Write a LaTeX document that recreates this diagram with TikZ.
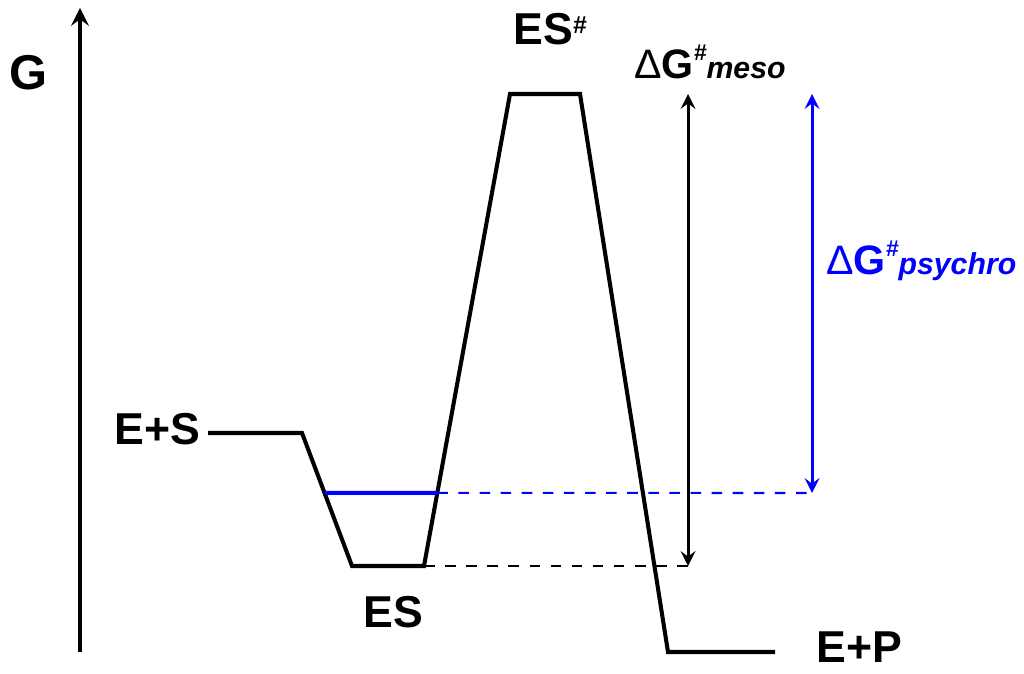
\documentclass[tikz,border=0pt]{standalone}
\usepackage{fontspec}
\setmainfont{Liberation Sans}
\usetikzlibrary{arrows, calc, positioning}
\tikzset{>=stealth}
\newcommand{\dgsharp}[1]{Δ\textbf{G}\raisebox{0.85ex}{\bfseries\itshape\fontsize{6.5}{7}\selectfont\#}{\bfseries\itshape\fontsize{8.6}{10}\selectfont #1}}

\begin{document}
\begin{tikzpicture}[x=0.01cm, y=-0.01cm, >=stealth, thick]
    \tikzset{profile/.style={line width=1.15pt, line join=miter},
             dim/.style={line width=0.85pt},
             lab/.style={inner sep=0pt, font=\bfseries\fontsize{12.7}{15}\selectfont},
             dg/.style={inner sep=0pt, font=\fontsize{11.7}{14}\selectfont}}
    \useasboundingbox (0,0) rectangle (1024,674);
    % energy levels
    \coordinate (s0) at (208,433);
    \coordinate (s1) at (302,433);
    \coordinate (es0) at (352,566);
    \coordinate (es1) at (424,566);
    \coordinate (ts0) at (510,94);
    \coordinate (ts1) at (580,94);
    \coordinate (p0) at (668,652);
    \coordinate (p1) at (775,652);
    \coordinate (bl0) at ($(s1)!0.451!(es0)$);
    \coordinate (bl1) at ($(es1)!0.155!(ts0)$);
    \coordinate (mtop) at (688,94);
    \coordinate (mbot) at (688,566);
    \coordinate (ptop) at (812,94);
    \coordinate (pbot) at (812,493);
    \coordinate (gbot) at (80,652);
    \coordinate (gtop) at (80,8);
    % axis
    \draw [->, line width=1.2pt] (gbot)--(gtop);
    \node [lab, font=\bfseries\fontsize{13.9}{16}\selectfont, anchor=base west] (g) at (8,90) {G};
    % reaction profile
    \draw [profile] (s0)--(s1)--(es0)--(es1)--(ts0)--(ts1)--(p0)--(p1);
    \draw [profile, blue] (bl0)--(bl1);
    \draw [dashed, line width=0.6pt] (es1)--(mbot);
    \draw [dashed, line width=0.6pt, blue] (bl1)--(pbot);
    \draw [dim, <->] (mtop)--(mbot);
    \draw [dim, <->, blue] (ptop)--(pbot);
    % labels
    \node [lab, anchor=base west] (es) at (362,628) {ES};
    \node [lab, anchor=base west] (es+) at (113,445) {E+S};
    \node [lab, anchor=base west] (ep) at (815,663) {E+P};
    \node [lab, anchor=base west] (ts) at (512,45) {ES\raisebox{0.5ex}{\itshape\fontsize{7}{8}\selectfont\#}};
    \node [dg, anchor=base west] (meso) at (633,79) {\dgsharp{meso}};
    \node [dg, blue, anchor=base west] (psy) at (825,275) {\dgsharp{psychro}};
\end{tikzpicture}
\end{document}
